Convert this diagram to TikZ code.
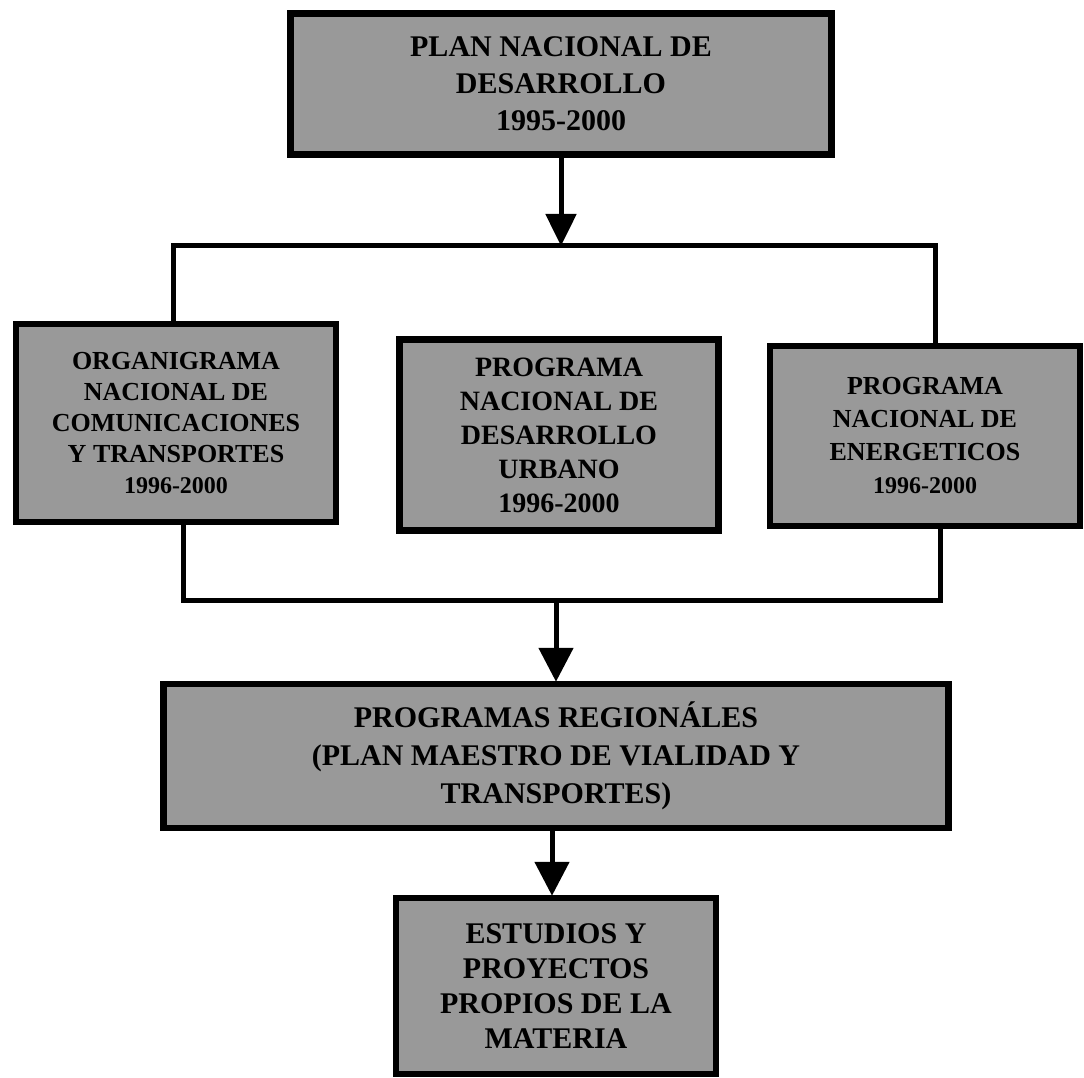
\documentclass[tikz,border=0pt]{standalone}
\usepackage{fontspec}
\setmainfont{Liberation Serif}
\usetikzlibrary{arrows.meta}
\begin{document}
\begin{tikzpicture}[x=1pt,y=-1pt,
  box/.style={draw=black, line width=6.5pt, fill=black!40, align=center, inner sep=0pt, text=black},
  conn/.style={draw=black, line width=5pt, line join=miter},
  arr/.style={conn, -{Triangle[width=34pt,length=34pt]}, shorten >=-1pt}]
\useasboundingbox (0,0) rectangle (1084,1078);
\fill[white] (0,0) rectangle (1084,1078);

\node[box, minimum width=541pt, minimum height=141pt, font=\bfseries\fontsize{30}{37}\selectfont] (pnd) at (561,84)
  {PLAN NACIONAL DE\\ DESARROLLO\\ 1995-2000};

\node[box, minimum width=320pt, minimum height=198pt, font=\bfseries\fontsize{26}{31}\selectfont] (onc) at (176,423)
  {ORGANIGRAMA\\ NACIONAL DE\\ COMUNICACIONES\\ Y TRANSPORTES\\ {\fontsize{24}{31}\selectfont 1996-2000}};

\node[box, minimum width=319pt, minimum height=191pt, font=\bfseries\fontsize{28}{34}\selectfont] (pdu) at (559,435)
  {PROGRAMA\\ NACIONAL DE\\ DESARROLLO\\ URBANO\\ 1996-2000};

\node[box, minimum width=310pt, minimum height=180pt, font=\bfseries\fontsize{26}{33}\selectfont] (pne) at (925,436)
  {PROGRAMA\\ NACIONAL DE\\ ENERGETICOS\\ {\fontsize{24}{33}\selectfont 1996-2000}};

\node[box, minimum width=785pt, minimum height=144pt, font=\bfseries\fontsize{30}{38}\selectfont] (pr) at (556,756)
  {PROGRAMAS REGIONÁLES\\ (PLAN MAESTRO DE VIALIDAD Y\\ TRANSPORTES)};

\node[box, minimum width=320pt, minimum height=176pt, font=\bfseries\fontsize{30}{35}\selectfont] (ep) at (556,986)
  {ESTUDIOS Y\\ PROYECTOS\\ PROPIOS DE LA\\ MATERIA};

\coordinate (ua) at (173,245);
\coordinate (ub) at (935,245);
\coordinate (la) at (183,600);
\coordinate (lb) at (940,600);

\draw[arr, -{Triangle[width=30pt,length=32pt]}] (pnd.south) -- (pnd.south |- ua);
\draw[conn] (onc.north -| ua) -- (ua) -- (ub) -- (ub |- pne.north);
\draw[conn] (onc.south -| la) -- (la) -- (lb) -- (lb |- pne.south);
\draw[arr] (pr.north |- la) -- (pr.north);
\draw[arr] ([xshift=-4pt]pr.south) -- ([xshift=-4pt]ep.north);
\end{tikzpicture}
\end{document}
